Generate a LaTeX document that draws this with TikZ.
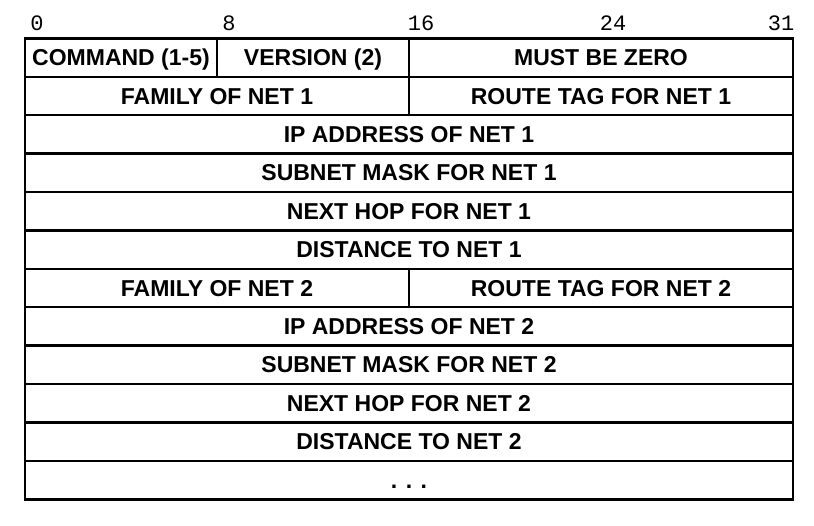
\documentclass[tikz,border=0pt]{standalone}
\usepackage{fontspec}
\setsansfont{Liberation Sans}
\setmonofont{Liberation Mono}
\usetikzlibrary{positioning}

\newcommand{\fieldfont}{\sffamily\bfseries\fontsize{23pt}{26pt}\selectfont}
\newcommand{\bitfont}{\ttfamily\fontsize{22pt}{26pt}\selectfont}

\begin{document}
\begin{tikzpicture}[
    x=1pt,
    y=1pt,
    every node/.style={inner sep=0pt, outer sep=0pt},
    field/.style={
        draw,
        line width=2.4pt,
        minimum height=38.4pt,
        text height=16pt,
        text depth=0pt,
        font=\fieldfont,
    },
    quarter/.style={field, minimum width=192pt},
    half/.style={field, minimum width=384pt},
    full/.style={field, minimum width=768pt},
    bitnum/.style={font=\bitfont, anchor=base},
]
\useasboundingbox (0,0) rectangle (814,-526);

% --- Bit numbers ---
\foreach \b in {0,8,16,24,31}
    \node[bitnum] (b\b) at ({25+24*\b+12}, -31) {\b};

% --- Header ---
\node[quarter, anchor=north west] (cmd)  at (25,-38.5) {COMMAND (1-5)};
\node[quarter]                    (ver)  [right=0pt of cmd] {VERSION (2)};
\node[half]                       (zero) [right=0pt of ver] {MUST BE ZERO};

% --- Entry for net 1 ---
\node[half]  (fam1)  [below right=0pt and 0pt of cmd.south west]   {FAMILY OF NET 1};
\node[half]  (tag1)  [right=0pt of fam1]                           {ROUTE TAG FOR NET 1};
\node[full]  (ip1)   [below right=0pt and 0pt of fam1.south west]  {IP ADDRESS OF NET 1};
\node[full]  (mask1) [below=0pt of ip1]                            {SUBNET MASK FOR NET 1};
\node[full]  (hop1)  [below=0pt of mask1]                          {NEXT HOP FOR NET 1};
\node[full]  (dist1) [below=0pt of hop1]                           {DISTANCE TO NET 1};

% --- Entry for net 2 ---
\node[half]  (fam2)  [below right=0pt and 0pt of dist1.south west] {FAMILY OF NET 2};
\node[half]  (tag2)  [right=0pt of fam2]                           {ROUTE TAG FOR NET 2};
\node[full]  (ip2)   [below right=0pt and 0pt of fam2.south west]  {IP ADDRESS OF NET 2};
\node[full]  (mask2) [below=0pt of ip2]                            {SUBNET MASK FOR NET 2};
\node[full]  (hop2)  [below=0pt of mask2]                          {NEXT HOP FOR NET 2};
\node[full]  (dist2) [below=0pt of hop2]                           {DISTANCE TO NET 2};

% --- More entries ---
\node[full]  (more)  [below=0pt of dist2]                          {. . .};

\end{tikzpicture}
\end{document}
